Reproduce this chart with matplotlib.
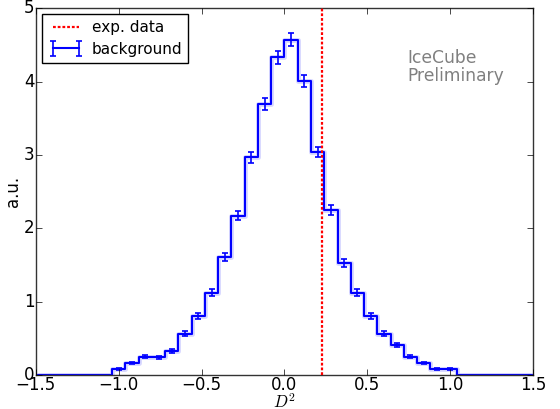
import numpy as np
import matplotlib
matplotlib.use("Agg")
import matplotlib.pyplot as plt

plt.style.use("classic")
plt.rcParams["figure.facecolor"] = "white"
plt.rcParams["savefig.facecolor"] = "white"

# Histogram of D^2 for background, bin width 0.08
bin_width = 0.08
first_edge = -1.04
counts = [0.08, 0.165, 0.25, 0.245, 0.325, 0.565, 0.805, 1.125, 1.605, 2.17,
          2.965, 3.69, 4.33, 4.57, 4.01, 3.04, 2.25, 1.53, 1.125, 0.805,
          0.565, 0.405, 0.25, 0.165, 0.08, 0.08]
errors = [0.012, 0.017, 0.021, 0.021, 0.024, 0.032, 0.038, 0.045, 0.053, 0.062,
          0.072, 0.080, 0.087, 0.090, 0.084, 0.073, 0.063, 0.052, 0.045, 0.038,
          0.032, 0.027, 0.021, 0.017, 0.012, 0.012]
n_empty = 6          # empty bins on each side of the filled range
exp_value = 0.225    # measured D^2

xlim = (-1.5, 1.5)
ylim = (0, 5)

vals = np.concatenate([np.zeros(n_empty), counts, np.zeros(n_empty)])
errs = np.concatenate([np.zeros(n_empty), errors, np.zeros(n_empty)])
start = first_edge - n_empty * bin_width
centers = start + bin_width * (np.arange(len(vals)) + 0.5)

fig = plt.figure(figsize=(5.6, 4.09), dpi=100)
ax = fig.add_axes([0.064, 0.083, 0.888, 0.897])

ax.step(centers, vals, where="mid", color="#9090ff", lw=3.5, alpha=0.35, zorder=1)
ax.axvline(exp_value, color="red", ls=(0, (2.0, 1.4)), lw=1.6,
           label="exp. data", zorder=3)
ax.errorbar(centers, vals, yerr=errs, drawstyle="steps-mid", color="blue",
            lw=1.5, capsize=2.5, elinewidth=1.2, mew=1.2, label="background",
            zorder=2)

ax.set_xlim(*xlim)
ax.set_ylim(*ylim)
ax.set_xticks(np.arange(-1.5, 1.51, 0.5))
ax.set_yticks(np.arange(0, 5.1, 1))
ax.tick_params(labelsize=12)
ax.tick_params(axis="x", pad=1)
ax.tick_params(axis="y", pad=1)
ax.set_xlabel(r"$D^2$", fontsize=12)
ax.set_ylabel("a.u.", fontsize=12)
ax.xaxis.set_label_coords(0.5, -0.05)
ax.yaxis.set_label_coords(-0.027, 0.5)
for s in ax.spines.values():
    s.set_color("#333333")

ax.text(0.748, 0.89, "IceCube\nPreliminary", transform=ax.transAxes,
        color="gray", fontsize=12.3, va="top", ha="left", linespacing=1.0)

ax.legend(loc="upper left", fontsize=11, numpoints=2, handlelength=2.3,
          handletextpad=0.55, borderaxespad=0.4, borderpad=0.4,
          labelspacing=0.4, frameon=True)

fig.savefig("out.png", dpi=100)
